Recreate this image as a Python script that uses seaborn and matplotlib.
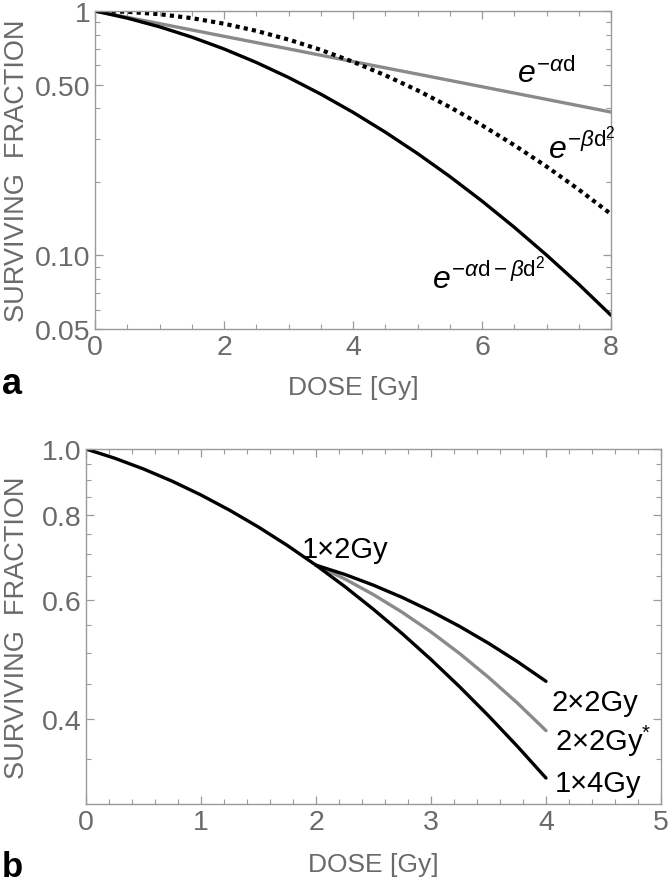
import numpy as np
import pandas as pd
import matplotlib
matplotlib.use("Agg")
import matplotlib.pyplot as plt
import seaborn as sns
from matplotlib.ticker import FixedLocator, NullFormatter

# ---------------- data ----------------
# Panel a
dose_a_lin = [0, 1, 2, 3, 4, 5, 6, 7, 8]
sf_alpha = [1.0, 0.888, 0.788, 0.700, 0.621, 0.552, 0.490, 0.435, 0.386]

dose_a = [0, 0.5, 1, 1.5, 2, 2.5, 3, 3.5, 4, 4.5, 5, 5.5, 6, 6.5, 7, 7.5, 8]
sf_beta = [1.0, 0.9925, 0.9705, 0.9349, 0.8873, 0.8295, 0.7641, 0.6933, 0.6198,
           0.5458, 0.4736, 0.4048, 0.3408, 0.2827, 0.2311, 0.1860, 0.1476]
sf_lq = [1.0, 0.9352, 0.8617, 0.7821, 0.6994, 0.6161, 0.5347, 0.4571, 0.3851,
         0.3195, 0.2612, 0.2104, 0.1669, 0.1304, 0.1004, 0.0762, 0.0569]

# Panel b
dose_b1 = [0, 0.25, 0.5, 0.75, 1, 1.25, 1.5, 1.75, 2, 2.25, 2.5, 2.75, 3, 3.25,
           3.5, 3.75, 4]
sf_1x4 = [1.0, 0.9692, 0.9345, 0.8965, 0.8556, 0.8123, 0.7674, 0.7212, 0.6743,
          0.6273, 0.5805, 0.5346, 0.4897, 0.4463, 0.4046, 0.3650, 0.3276]
dose_b2 = [2, 2.25, 2.5, 2.75, 3, 3.25, 3.5, 3.75, 4]
sf_2x2 = [0.6743, 0.6536, 0.6301, 0.6045, 0.5769, 0.5478, 0.5175, 0.4864, 0.4548]
sf_2x2s = [0.6743, 0.6437, 0.6102, 0.5748, 0.5377, 0.4996, 0.4610, 0.4227, 0.3848]

a_yticks = [0.05, 0.1, 0.5, 1]
a_yticklabels = ["0.05", "0.10", "0.50", "1"]
a_yminor = [0.06, 0.07, 0.08, 0.09, 0.2, 0.3, 0.4, 0.6, 0.7, 0.8, 0.9]
b_yticks = [0.4, 0.6, 0.8, 1.0]
b_yticklabels = ["0.4", "0.6", "0.8", "1.0"]
b_yminor = [0.35, 0.45, 0.5, 0.55, 0.65, 0.7, 0.75, 0.85, 0.9, 0.95]

# ---------------- style ----------------
sns.set_theme(style="ticks")
plt.rcParams["font.family"] = ["Liberation Sans", "DejaVu Sans"]
plt.rcParams["mathtext.fontset"] = "custom"
plt.rcParams["mathtext.rm"] = "Liberation Sans"
plt.rcParams["mathtext.it"] = "Liberation Sans:italic"
plt.rcParams["mathtext.bf"] = "Liberation Sans:bold"

GRAY_LINE = "#8a8a8a"
AX_GRAY = "#9a9a9a"
TXT_GRAY = "#6a6a6a"

W, H = 669, 887
fig = plt.figure(figsize=(W / 100, H / 100), dpi=100)

def px_axes(l, r, t, b):
    return fig.add_axes([l / W, 1 - b / H, (r - l) / W, (b - t) / H])

axa = px_axes(95, 611, 12, 330)
axb = px_axes(86, 661, 450, 805)

def style_axes(ax):
    for s in ax.spines.values():
        s.set_color(AX_GRAY)
        s.set_linewidth(1.0)
    ax.tick_params(which="both", direction="in", top=True, right=True,
                   color=AX_GRAY, labelcolor=TXT_GRAY, labelsize=20.5, pad=3.5)
    ax.tick_params(which="major", length=6, width=0.9)
    ax.tick_params(which="minor", length=3.5, width=0.8)

# ---------------- panel a ----------------
dfa_lin = pd.DataFrame({"dose": dose_a_lin, "sf": sf_alpha})
dfa = pd.DataFrame({"dose": dose_a, "beta": sf_beta, "lq": sf_lq})

sns.lineplot(data=dfa_lin, x="dose", y="sf", ax=axa, color=GRAY_LINE, lw=2.4,
             estimator=None, sort=False)
sns.lineplot(data=dfa, x="dose", y="beta", ax=axa, color="black", lw=3.0,
             linestyle=(0, (1, 1)), estimator=None, sort=False,
             dash_capstyle="butt")
sns.lineplot(data=dfa, x="dose", y="lq", ax=axa, color="black", lw=2.4,
             estimator=None, sort=False)

axa.set_yscale("log")
axa.set_xlim(0, 8)
axa.set_ylim(0.05, 1)
axa.set_xticks([0, 2, 4, 6, 8])
axa.set_xticklabels(["0", "2", "4", "6", "8"])
axa.xaxis.set_minor_locator(FixedLocator([0.5, 1, 1.5, 2.5, 3, 3.5, 4.5, 5, 5.5,
                                          6.5, 7, 7.5]))
axa.yaxis.set_major_locator(FixedLocator(a_yticks))
axa.set_yticklabels(a_yticklabels)
axa.yaxis.set_minor_locator(FixedLocator(a_yminor))
axa.yaxis.set_minor_formatter(NullFormatter())
style_axes(axa)
axa.set_xlabel("DOSE [Gy]", fontsize=19, color=TXT_GRAY)
axa.set_ylabel("SURVIVING  FRACTION", fontsize=19.5, color=TXT_GRAY)
axa.xaxis.set_label_coords(0.5, -0.145)
axa.yaxis.set_label_coords(-0.125, 0.5)

axa.text(6.54, 0.512, r"$e^{-\alpha\mathrm{d}}$", fontsize=23, color="black",
         ha="left", va="baseline")
axa.text(7.02, 0.252, r"$e^{-\beta\mathrm{d}^2}$", fontsize=23, color="black",
         ha="left", va="baseline")
axa.text(5.22, 0.074, r"$e^{-\alpha\mathrm{d}-\beta\mathrm{d}^2}$", fontsize=23,
         color="black", ha="left", va="baseline")

# ---------------- panel b ----------------
dfb1 = pd.DataFrame({"dose": dose_b1, "sf": sf_1x4})
dfb2 = pd.DataFrame({"dose": dose_b2, "sf2": sf_2x2, "sf2s": sf_2x2s})

sns.lineplot(data=dfb2, x="dose", y="sf2s", ax=axb, color=GRAY_LINE, lw=2.4,
             estimator=None, sort=False)
sns.lineplot(data=dfb2, x="dose", y="sf2", ax=axb, color="black", lw=2.4,
             estimator=None, sort=False)
sns.lineplot(data=dfb1, x="dose", y="sf", ax=axb, color="black", lw=2.4,
             estimator=None, sort=False)

axb.set_yscale("log")
axb.set_xlim(0, 5)
axb.set_ylim(0.30, 1.0)
axb.set_xticks([0, 1, 2, 3, 4, 5])
axb.set_xticklabels(["0", "1", "2", "3", "4", "5"])
axb.xaxis.set_minor_locator(FixedLocator([i / 5 for i in range(1, 25) if i % 5]))
axb.yaxis.set_major_locator(FixedLocator(b_yticks))
axb.set_yticklabels(b_yticklabels)
axb.yaxis.set_minor_locator(FixedLocator(b_yminor))
axb.yaxis.set_minor_formatter(NullFormatter())
style_axes(axb)
axb.set_xlabel("DOSE [Gy]", fontsize=19, color=TXT_GRAY)
axb.set_ylabel("SURVIVING  FRACTION", fontsize=19.5, color=TXT_GRAY)
axb.xaxis.set_label_coords(0.5, -0.136)
axb.yaxis.set_label_coords(-0.097, 0.5)

axb.text(1.88, 0.694, "1×2Gy", fontsize=21, color="black", ha="left", va="baseline")
axb.text(4.05, 0.413, "2×2Gy", fontsize=21, color="black", ha="left", va="baseline")
axb.text(4.08, 0.360, "2×2Gy$^{*}$", fontsize=21, color="black", ha="left",
         va="baseline")
axb.text(4.08, 0.314, "1×4Gy", fontsize=21, color="black", ha="left", va="baseline")

# panel letters
fig.text(2 / W, 1 - 394 / H, "a", fontsize=26, fontweight="bold", color="black",
         ha="left", va="baseline")
fig.text(2 / W, 1 - 877 / H, "b", fontsize=25, fontweight="bold", color="black",
         ha="left", va="baseline")

fig.savefig("out.png", dpi=100)
